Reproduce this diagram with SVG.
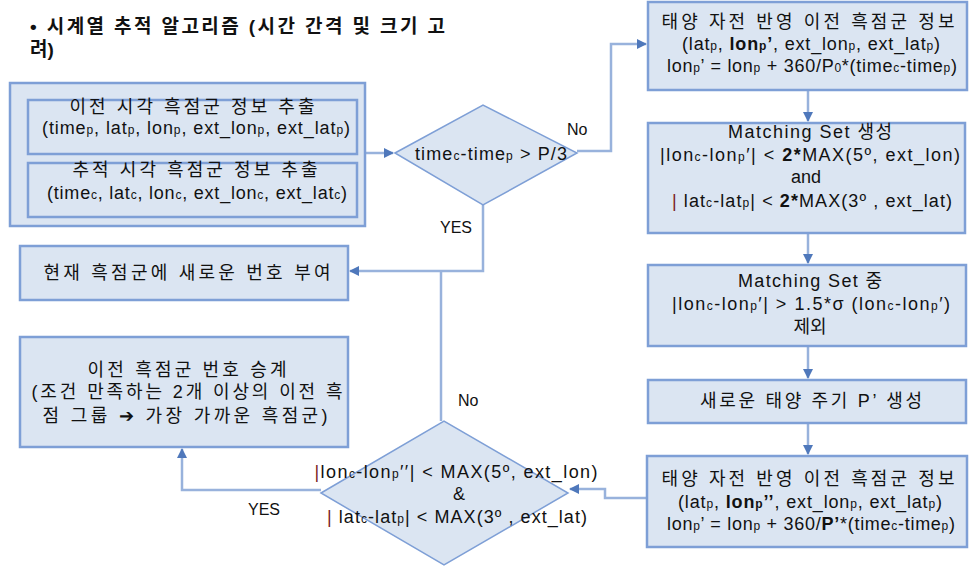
<svg xmlns="http://www.w3.org/2000/svg" width="976" height="570" viewBox="0 0 976 570">
<style>
.box{fill:#dbe5f2;stroke:#7e9fd6;stroke-width:2.5}
.inner{fill:#dbe5f2;stroke:#7e9fd6;stroke-width:2.5}
.dia{fill:#dbe5f2;stroke:#7e9fd6;stroke-width:1.5}
.con{fill:none;stroke:#98b2dc;stroke-width:2.5}
text{font-family:'Liberation Sans','Noto Sans CJK KR',sans-serif;font-size:18px;fill:#111}
.kr{font-size:18px}
.title{font-size:19px;font-weight:bold}
.s{font-size:12px}
.b{font-weight:bold}
.r{fill:#7a1d1d}
.lbl{font-size:16px}
</style>
<defs>
<marker id="ah" viewBox="0 0 10 10" refX="9" refY="5" markerWidth="4" markerHeight="4" orient="auto">
<path d="M0,0 L10,5 L0,10 z" fill="#4f78bb"/>
</marker>
</defs>

<g id="title">
<text class="title" x="30" y="33" textLength="415" lengthAdjust="spacing">• 시계열 추적 알고리즘 (시간 간격 및 크기 고</text>
<text class="title" x="30" y="56">려)</text>
</g>

<g id="connectors">
<path class="con" d="M365,153 H393" marker-end="url(#ah)"/>
<path class="con" d="M577,151 H611 V44 H646" marker-end="url(#ah)"/>
<path class="con" d="M808,90 V121" marker-end="url(#ah)"/>
<path class="con" d="M808,233 V263" marker-end="url(#ah)"/>
<path class="con" d="M808,346 V378" marker-end="url(#ah)"/>
<path class="con" d="M808,423 V454" marker-end="url(#ah)"/>
<path class="con" d="M647,498 H605 V489 H570" marker-end="url(#ah)"/>
<path class="con" d="M483,205 V271 H350" marker-end="url(#ah)"/>
<path class="con" d="M441,421 V271"/>
<path class="con" d="M321,490 H182 V449" marker-end="url(#ah)"/>
<text class="lbl" x="567" y="135">No</text>
<text class="lbl" x="440" y="233">YES</text>
<text class="lbl" x="458" y="406">No</text>
<text class="lbl" x="248" y="515">YES</text>
</g>

<g id="extract">
<rect class="box" x="10" y="83" width="355" height="143"/>
<g id="prev-info">
<rect class="inner" x="28" y="100" width="329" height="54"/>
<text class="kr" x="192" y="113" text-anchor="middle" textLength="245" lengthAdjust="spacing">이전 시각 흑점군 정보 추출</text>
<text x="196" y="134" text-anchor="middle" textLength="308" lengthAdjust="spacing">(time<tspan class="s">p</tspan>, lat<tspan class="s">p</tspan>, lon<tspan class="s">p</tspan>, ext_lon<tspan class="s">p</tspan>, ext_lat<tspan class="s">p</tspan>)</text>
</g>
<g id="cur-info">
<rect class="inner" x="28" y="163" width="329" height="54"/>
<text class="kr" x="195" y="176" text-anchor="middle" textLength="245" lengthAdjust="spacing">추적 시각 흑점군 정보 추출</text>
<text x="197" y="199" text-anchor="middle" textLength="300" lengthAdjust="spacing">(time<tspan class="s">c</tspan>, lat<tspan class="s">c</tspan>, lon<tspan class="s">c</tspan>, ext_lon<tspan class="s">c</tspan>, ext_lat<tspan class="s">c</tspan>)</text>
</g>
</g>

<g id="dec1">
<polygon class="dia" points="395,153 483,105 577,153 483,205"/>
<text x="491" y="160" text-anchor="middle" textLength="152" lengthAdjust="spacing">time<tspan class="s">c</tspan>-time<tspan class="s">p</tspan>  &gt; P/3</text>
</g>

<g id="rot1">
<rect class="box" x="648" y="2" width="319" height="88"/>
<text class="kr" x="808" y="28" text-anchor="middle" textLength="293" lengthAdjust="spacing">태양 자전 반영 이전 흑점군 정보</text>
<text x="811" y="50" text-anchor="middle" textLength="258" lengthAdjust="spacing">(lat<tspan class="s">p</tspan>, <tspan class="b">lon<tspan class="s">p</tspan>’</tspan>, ext_lon<tspan class="s">p</tspan>, ext_lat<tspan class="s">p</tspan>)</text>
<text x="812" y="72" text-anchor="middle" textLength="290" lengthAdjust="spacing">lon<tspan class="s">p</tspan>’ = lon<tspan class="s">p</tspan> + 360/P<tspan class="s">0</tspan>*(time<tspan class="s">c</tspan>-time<tspan class="s">p</tspan>)</text>
</g>

<g id="match">
<rect class="box" x="648" y="123" width="317" height="110"/>
<text x="810" y="138" text-anchor="middle" textLength="164" lengthAdjust="spacing">Matching Set 생성</text>
<text x="810" y="161" text-anchor="middle" textLength="300" lengthAdjust="spacing">|lon<tspan class="s">c</tspan>-lon<tspan class="s">p</tspan>′|   &lt;  <tspan class="b">2*</tspan>MAX(5º, ext_lon)</text>
<text x="806" y="183" text-anchor="middle">and</text>
<text x="812" y="207" text-anchor="middle" textLength="280" lengthAdjust="spacing"><tspan class="r">|</tspan> lat<tspan class="s">c</tspan>-lat<tspan class="s">p</tspan>|  &lt;  <tspan class="b">2*</tspan>MAX(3º , ext_lat)</text>
</g>

<g id="exclude">
<rect class="box" x="648" y="265" width="318" height="81"/>
<text x="810" y="287" text-anchor="middle" textLength="144" lengthAdjust="spacing">Matching Set 중</text>
<text x="811" y="310" text-anchor="middle" textLength="278" lengthAdjust="spacing">|lon<tspan class="s">c</tspan>-lon<tspan class="s">p</tspan>′|   &gt; 1.5*σ (lon<tspan class="s">c</tspan>-lon<tspan class="s">p</tspan>′)</text>
<text class="kr" x="810" y="333" text-anchor="middle">제외</text>
</g>

<g id="newperiod">
<rect class="box" x="648" y="380" width="318" height="43"/>
<text x="811" y="407" text-anchor="middle" textLength="222" lengthAdjust="spacing">새로운 태양 주기 P’ 생성</text>
</g>

<g id="rot2">
<rect class="box" x="647" y="456" width="320" height="91"/>
<text class="kr" x="808" y="485" text-anchor="middle" textLength="293" lengthAdjust="spacing">태양 자전 반영 이전 흑점군 정보</text>
<text x="810" y="508" text-anchor="middle" textLength="264" lengthAdjust="spacing">(lat<tspan class="s">p</tspan>, <tspan class="b">lon<tspan class="s">p</tspan>’’</tspan>, ext_lon<tspan class="s">p</tspan>, ext_lat<tspan class="s">p</tspan>)</text>
<text x="811" y="530" text-anchor="middle" textLength="288" lengthAdjust="spacing">lon<tspan class="s">p</tspan>’ = lon<tspan class="s">p</tspan> + 360/<tspan class="b">P’</tspan>*(time<tspan class="s">c</tspan>-time<tspan class="s">p</tspan>)</text>
</g>

<g id="dec2">
<polygon class="dia" points="321,493 444,421 568,493 444,565"/>
<text x="456" y="478" text-anchor="middle" textLength="283" lengthAdjust="spacing"><tspan class="r">|</tspan>lon<tspan class="s">c</tspan>-lon<tspan class="s">p</tspan>′′|   &lt;  MAX(5º, ext_lon)</text>
<text x="459" y="500" text-anchor="middle">&amp;</text>
<text x="457" y="523" text-anchor="middle" textLength="260" lengthAdjust="spacing"><tspan class="r">|</tspan> lat<tspan class="s">c</tspan>-lat<tspan class="s">p</tspan>|  &lt;  MAX(3º , ext_lat)</text>
</g>

<g id="newnum">
<rect class="box" x="20" y="246" width="328" height="54"/>
<text class="kr" x="187" y="279" text-anchor="middle" textLength="287" lengthAdjust="spacing">현재 흑점군에 새로운 번호 부여</text>
</g>

<g id="inherit">
<rect class="box" x="20" y="337" width="328" height="110"/>
<text class="kr" x="187" y="376" text-anchor="middle" textLength="199" lengthAdjust="spacing">이전 흑점군 번호 승계</text>
<text class="kr" x="187" y="398" text-anchor="middle" textLength="311" lengthAdjust="spacing">(조건 만족하는 2개 이상의 이전 흑</text>
<text class="kr" x="185" y="422" text-anchor="middle" textLength="285" lengthAdjust="spacing">점 그룹 ➔ 가장 가까운 흑점군)</text>
</g>
</svg>
